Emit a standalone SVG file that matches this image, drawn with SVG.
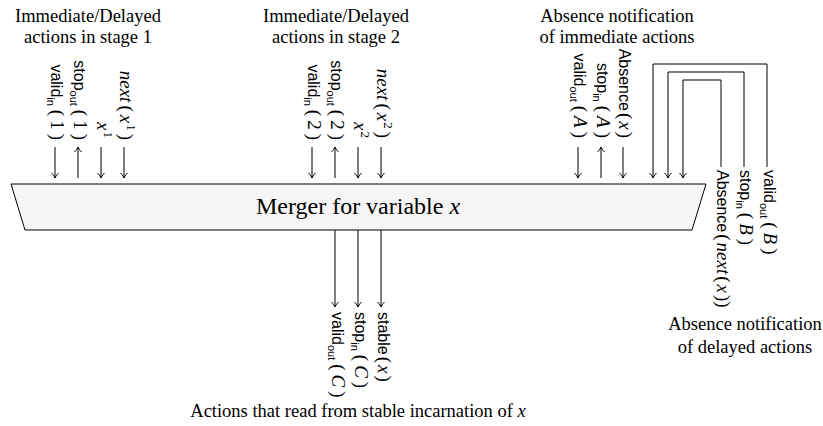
<svg xmlns="http://www.w3.org/2000/svg" width="823" height="426" viewBox="0 0 823 426">
<style>
text{fill:#000}
.h{font-family:"Liberation Serif","Times New Roman",serif;font-size:18.5px;text-anchor:middle}
.t{font-family:"Liberation Serif","Times New Roman",serif;font-size:24px;text-anchor:middle}
.l{font-family:"Liberation Sans",Arial,sans-serif;font-size:16px}
.s{font-size:11px}
.m{font-family:"Liberation Serif","Times New Roman",serif;font-size:19px}
.i{font-family:"Liberation Serif","Times New Roman",serif;font-style:italic;font-size:19px}
.sup{font-family:"Liberation Serif","Times New Roman",serif;font-size:13px}
.e{text-anchor:end}
.c{fill:none;stroke:#000;stroke-width:1}
</style>
<defs>
<marker id="ah" viewBox="-6 -5 7 10" markerWidth="7" markerHeight="10" refX="0" refY="0" markerUnits="userSpaceOnUse" orient="auto" overflow="visible">
<path d="M-5,-3.5 C-3,-1.5 -1,-0.4 0,0 C-1,0.4 -3,1.5 -5,3.5" fill="none" stroke="#000" stroke-width="1"/>
</marker>
</defs>

<g id="merger">
<polygon points="11,184 706,184 692,230 25,230" fill="#f6f6f6" stroke="#000" stroke-width="1"/>
<text class="t" x="358" y="214">Merger for variable <tspan font-style="italic">x</tspan></text>
</g>

<g id="connectors" class="c" marker-end="url(#ah)">
<path d="M55,147V178"/>
<path d="M78,178V147"/>
<path d="M101,147V178"/>
<path d="M124,147V178"/>
<path d="M312,147V178"/>
<path d="M335,178V147"/>
<path d="M358,147V178"/>
<path d="M381,147V178"/>
<path d="M578,147V178"/>
<path d="M601,178V147"/>
<path d="M623,147V178"/>
<path d="M767,167V64H653V178"/>
<path d="M744,167V72H668V178"/>
<path d="M721,167V80H683V178"/>
<path d="M335,230V307"/>
<path d="M358,230V307"/>
<path d="M381,230V307"/>
</g>

<g id="stage1">
<text class="h" x="88" y="22">Immediate/Delayed</text>
<text class="h" x="88" y="43">actions in stage 1</text>
<text class="l e" transform="translate(51,140) rotate(90)">valid<tspan class="s" dy="4">in</tspan><tspan class="m" dy="-4" dx="4">(</tspan><tspan class="m" dx="4">1</tspan><tspan class="m" dx="4">)</tspan></text>
<text class="l e" transform="translate(74,140) rotate(90)">stop<tspan class="s" dy="4">out</tspan><tspan class="m" dy="-4" dx="4">(</tspan><tspan class="m" dx="4">1</tspan><tspan class="m" dx="4">)</tspan></text>
<text class="i e" transform="translate(97,138) rotate(90)">x<tspan class="sup" dx="1" dy="-7" font-style="normal">1</tspan></text>
<text class="i e" transform="translate(120,140) rotate(90)">next<tspan font-style="normal" dx="3">(</tspan><tspan dx="3">x</tspan><tspan class="sup" dx="1" dy="-7" font-style="normal">1</tspan><tspan font-style="normal" dy="7" dx="3">)</tspan></text>
</g>

<g id="stage2">
<text class="h" x="336" y="22">Immediate/Delayed</text>
<text class="h" x="336" y="43">actions in stage 2</text>
<text class="l e" transform="translate(308,140) rotate(90)">valid<tspan class="s" dy="4">in</tspan><tspan class="m" dy="-4" dx="4">(</tspan><tspan class="m" dx="4">2</tspan><tspan class="m" dx="4">)</tspan></text>
<text class="l e" transform="translate(331,140) rotate(90)">stop<tspan class="s" dy="4">out</tspan><tspan class="m" dy="-4" dx="4">(</tspan><tspan class="m" dx="4">2</tspan><tspan class="m" dx="4">)</tspan></text>
<text class="i e" transform="translate(354,138) rotate(90)">x<tspan class="sup" dx="1" dy="-7" font-style="normal">2</tspan></text>
<text class="i e" transform="translate(377,138) rotate(90)">next<tspan font-style="normal" dx="3">(</tspan><tspan dx="3">x</tspan><tspan class="sup" dx="1" dy="-7" font-style="normal">2</tspan><tspan font-style="normal" dy="7" dx="3">)</tspan></text>
</g>

<g id="immediate-absence">
<text class="h" x="617" y="22">Absence notification</text>
<text class="h" x="617" y="43">of immediate actions</text>
<text class="l e" transform="translate(574,138) rotate(90)">valid<tspan class="s" dy="4">out</tspan><tspan class="m" dy="-4" dx="4">(</tspan><tspan class="i" dx="4">A</tspan><tspan class="m" dx="4">)</tspan></text>
<text class="l e" transform="translate(597,138) rotate(90)">stop<tspan class="s" dy="4">in</tspan><tspan class="m" dy="-4" dx="4">(</tspan><tspan class="i" dx="4">A</tspan><tspan class="m" dx="4">)</tspan></text>
<text class="l e" transform="translate(619,138) rotate(90)">Absence<tspan class="m" dx="2">(</tspan><tspan class="i" dx="2">x</tspan><tspan class="m" dx="2">)</tspan></text>
</g>

<g id="delayed-absence">
<text class="h" x="745" y="330">Absence notification</text>
<text class="h" x="745" y="353">of delayed actions</text>
<text class="l" transform="translate(764,170) rotate(90)">valid<tspan class="s" dy="4">out</tspan><tspan class="m" dy="-4" dx="4">(</tspan><tspan class="i" dx="4">B</tspan><tspan class="m" dx="4">)</tspan></text>
<text class="l" transform="translate(740,170) rotate(90)">stop<tspan class="s" dy="4">in</tspan><tspan class="m" dy="-4" dx="4">(</tspan><tspan class="i" dx="4">B</tspan><tspan class="m" dx="4">)</tspan></text>
<text class="l" transform="translate(717,170) rotate(90)">Absence<tspan class="m" dx="2">(</tspan><tspan class="i" dx="2">next</tspan><tspan class="m" dx="2">(</tspan><tspan class="i" dx="2">x</tspan><tspan class="m" dx="2">))</tspan></text>
</g>

<g id="stable-readers">
<text class="h" x="358" y="417">Actions that read from stable incarnation of <tspan font-style="italic">x</tspan></text>
<text class="l" transform="translate(332,312) rotate(90)">valid<tspan class="s" dy="4">out</tspan><tspan class="m" dy="-4" dx="4">(</tspan><tspan class="i" dx="4">C</tspan><tspan class="m" dx="4">)</tspan></text>
<text class="l" transform="translate(355,312) rotate(90)">stop<tspan class="s" dy="4">in</tspan><tspan class="m" dy="-4" dx="4">(</tspan><tspan class="i" dx="4">C</tspan><tspan class="m" dx="4">)</tspan></text>
<text class="l" transform="translate(378,312) rotate(90)">stable<tspan class="m" dx="2">(</tspan><tspan class="i" dx="2">x</tspan><tspan class="m" dx="2">)</tspan></text>
</g>
</svg>
